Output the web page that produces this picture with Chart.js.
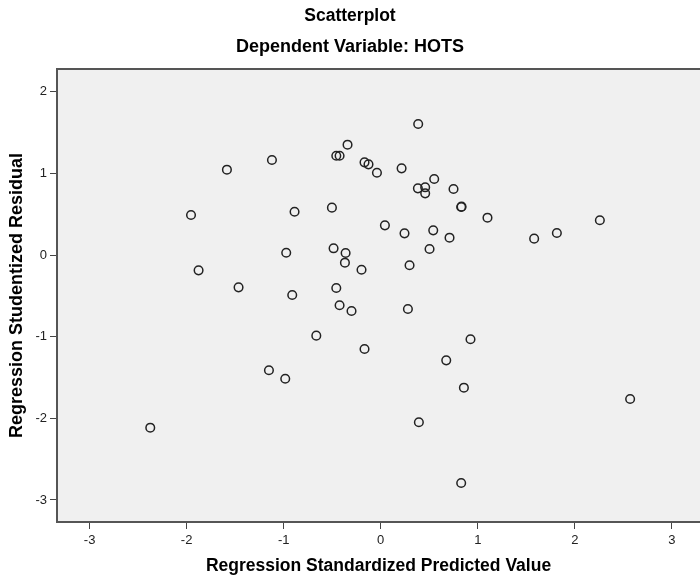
<!DOCTYPE html>
<html>
<head>
<meta charset="utf-8">
<script src="https://cdn.jsdelivr.net/npm/chart.js@4.4.0/dist/chart.umd.min.js"></script>
<style>
  body { margin: 0; background: #fff; }
  canvas { display: block; }
</style>
</head>
<body>
<canvas id="scatter" width="700" height="579"></canvas>
<script>
// Regression standardized predicted value (x) and studentized residual (y)
const predicted = [-1.955, -1.585, -1.121, -0.888, -0.974, -1.877, -0.503, -0.486, -0.362, -0.369,
                   -0.198, -0.342, -0.458, -0.424, -0.167, -0.126, -0.039, -1.465, -0.458, 0.386,
                   0.215, 0.551, 0.383, 0.458, 0.458, 0.750, 0.829, 0.833, 1.100, 2.258,
                   1.815, 1.581, 0.043, 0.245, 0.541, 0.709, 0.503, 0.297, -0.912, -0.424,
                   -0.301, -0.664, -0.167, -1.152, -0.984, -2.375, 0.280, 0.925, 0.675, 0.857,
                   2.570, 0.393, 0.829];
const residual = [0.49, 1.045, 1.163, 0.53, 0.028, -0.188, 0.58, 0.082, 0.024, -0.094,
                  -0.18, 1.351, 1.216, 1.216, 1.135, 1.11, 1.008, -0.396, -0.404, 1.604,
                  1.061, 0.931, 0.816, 0.829, 0.755, 0.808, 0.588, 0.592, 0.457, 0.425,
                  0.269, 0.2, 0.363, 0.265, 0.302, 0.212, 0.073, -0.126, -0.49, -0.616,
                  -0.686, -0.988, -1.151, -1.412, -1.515, -2.115, -0.661, -1.032, -1.29, -1.625,
                  -1.763, -2.049, -2.792];

const xRange = [-3.336, 3.29];
const yRange = [-3.27, 2.278];

const points = predicted.map((x, i) => ({ x: x, y: residual[i] }));

const fontFamily = "'Liberation Sans', Arial, sans-serif";

// gray plot background plus the top border line
const plotFrame = {
    id: 'plotFrame',
    beforeDraw(chart) {
        const ctx = chart.ctx;
        const a = chart.chartArea;
        ctx.save();
        ctx.fillStyle = '#f0f0f0';
        ctx.fillRect(a.left, a.top, a.right - a.left, a.bottom - a.top);
        ctx.strokeStyle = '#555';
        ctx.lineWidth = 2;
        ctx.beginPath();
        ctx.moveTo(a.left, a.top);
        ctx.lineTo(a.right, a.top);
        ctx.stroke();
        ctx.restore();
    }
};

new Chart(document.getElementById('scatter').getContext('2d'), {
    type: 'scatter',
    data: {
        datasets: [{
            data: points,
            pointStyle: 'circle',
            pointRadius: 4.3,
            pointHoverRadius: 4.3,
            pointBorderWidth: 1.5,
            borderColor: '#222',
            backgroundColor: 'rgba(0,0,0,0)'
        }]
    },
    options: {
        responsive: false,
        animation: false,
        layout: { padding: 0, autoPadding: false },
        plugins: {
            legend: { display: false },
            tooltip: { enabled: false },
            title: {
                display: true,
                text: 'Scatterplot',
                color: '#000',
                font: { family: fontFamily, size: 17.5, weight: 'bold' },
                padding: { top: 5.5, bottom: 5 }
            },
            subtitle: {
                display: true,
                text: 'Dependent Variable: HOTS',
                color: '#000',
                font: { family: fontFamily, size: 18, weight: 'bold' },
                padding: { top: 5.2, bottom: 10.7 }
            }
        },
        scales: {
            x: {
                type: 'linear',
                min: xRange[0],
                max: xRange[1],
                afterFit: function(scale) {
                    scale.height = 57;
                    scale.paddingLeft = 0;
                    scale.paddingRight = 0;
                },
                ticks: {
                    stepSize: 1,
                    includeBounds: false,
                    color: '#222',
                    padding: 4,
                    font: { family: fontFamily, size: 13 }
                },
                grid: {
                    drawOnChartArea: false,
                    drawTicks: true,
                    tickLength: 7,
                    color: '#444'
                },
                border: { display: true, color: '#555', width: 2 },
                title: {
                    display: true,
                    text: 'Regression Standardized Predicted Value',
                    color: '#000',
                    font: { family: fontFamily, size: 17.5, weight: 'bold' },
                    padding: { top: 0, bottom: 2.5 }
                }
            },
            y: {
                type: 'linear',
                min: yRange[0],
                max: yRange[1],
                afterFit: function(scale) {
                    scale.width = 57;
                    scale.paddingTop = 0;
                    scale.paddingBottom = 0;
                },
                ticks: {
                    stepSize: 1,
                    includeBounds: false,
                    color: '#222',
                    padding: 3,
                    font: { family: fontFamily, size: 13 }
                },
                grid: {
                    drawOnChartArea: false,
                    drawTicks: true,
                    tickLength: 7,
                    color: '#444'
                },
                border: { display: true, color: '#555', width: 2 },
                title: {
                    display: true,
                    text: 'Regression Studentized Residual',
                    color: '#000',
                    font: { family: fontFamily, size: 18, weight: 'bold' },
                    padding: { top: 6.2, bottom: 0 }
                }
            }
        }
    },
    plugins: [plotFrame]
});
</script>
</body>
</html>
